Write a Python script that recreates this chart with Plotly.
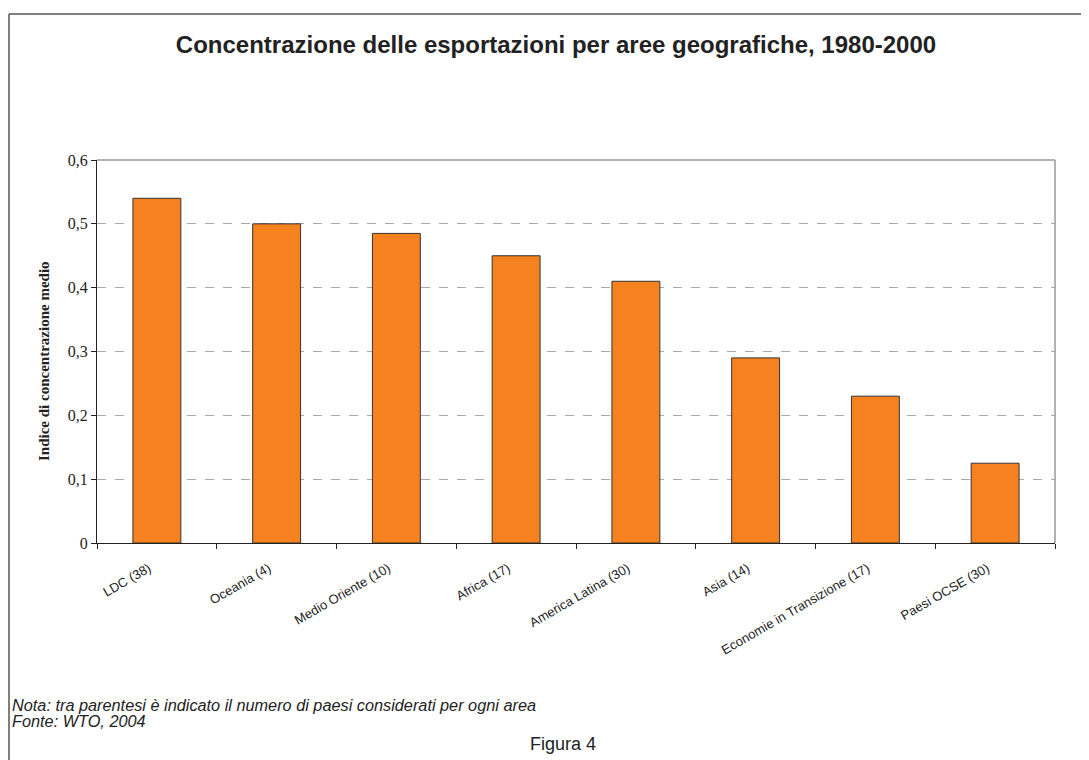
import plotly.graph_objects as go

categories = ["LDC (38)", "Oceania (4)", "Medio Oriente (10)", "Africa (17)",
              "America Latina (30)", "Asia (14)", "Economie in Transizione (17)",
              "Paesi OCSE (30)"]
values = [0.54, 0.50, 0.485, 0.45, 0.41, 0.29, 0.23, 0.125]
ytick_vals = [0, 0.1, 0.2, 0.3, 0.4, 0.5, 0.6]
ytick_text = ["0", "0,1", "0,2", "0,3", "0,4", "0,5", "0,6"]

# page body has an 8px margin: figure starts at (8, 8) in the window
OFF = 8
W, H = 1089 - OFF, 760 - OFF
# plot area in window pixels
SL, SR, ST, SB = 97, 1055, 160, 543
L, R, T, B = SL - OFF, SR - OFF, ST - OFF, SB - OFF


def px(sx):
    return (sx - OFF - L) / (R - L)


def py(sy):
    return (B - (sy - OFF)) / (B - T)


fig = go.Figure()
fig.add_trace(go.Bar(
    x=categories, y=values, width=0.4,
    marker=dict(color="#F5821F", line=dict(color="#333333", width=1)),
    hoverinfo="skip",
))

fig.update_layout(
    width=W, height=H,
    margin=dict(l=L, r=W - R, t=T, b=H - B),
    paper_bgcolor="white", plot_bgcolor="white",
    showlegend=False,
    font=dict(family="Liberation Sans, Arial", color="#222222"),
    title=dict(
        text="<b>Concentrazione delle esportazioni per aree geografiche, 1980-2000</b>",
        x=px(556), xref="paper", xanchor="center",
        y=1 - (45 - OFF) / H, yanchor="middle",
        font=dict(family="Liberation Sans, Arial", size=24, color="#222222"),
    ),
    xaxis=dict(
        type="category", tickangle=-30, tickson="boundaries",
        ticks="outside", ticklen=5, tickcolor="#222222",
        showline=True, linecolor="#222222", linewidth=1,
        showgrid=False,
        ticklabelshift=-8, ticklabelstandoff=12,
        tickfont=dict(family="Liberation Sans, Arial", size=13, color="#222222"),
        range=[-0.5, 7.5],
    ),
    yaxis=dict(
        range=[0, 0.6], tickvals=ytick_vals, ticktext=ytick_text,
        ticks="outside", ticklen=5, tickcolor="#222222",
        showline=True, linecolor="#222222", linewidth=1,
        showgrid=True, gridcolor="#AAAAAA", griddash="dash", gridwidth=1,
        zeroline=False,
        tickfont=dict(family="Liberation Serif, Times New Roman", size=16, color="#222222"),
    ),
)

# plot-area grey frame (top and right)
fig.add_shape(type="line", xref="paper", yref="paper", x0=0, x1=1, y0=1, y1=1,
              line=dict(color="#999999", width=1.5))
fig.add_shape(type="line", xref="paper", yref="paper", x0=1, x1=1, y0=0, y1=1,
              line=dict(color="#999999", width=1.5))

# outer figure border (left and top)
fig.add_shape(type="line", xref="paper", yref="paper", x0=px(9), x1=px(1100),
              y0=py(14), y1=py(14), line=dict(color="#555555", width=1.5))
fig.add_shape(type="line", xref="paper", yref="paper", x0=px(9), x1=px(9),
              y0=py(14), y1=py(780), line=dict(color="#555555", width=1.5))

fig.add_annotation(
    text="<b>Indice di concentrazione medio</b>", textangle=-90,
    xref="paper", yref="paper", x=px(44), y=py(361), xanchor="center", yanchor="middle",
    showarrow=False, font=dict(family="Liberation Serif, Times New Roman", size=15, color="#222222"))
fig.add_annotation(
    text="<i>Nota: tra parentesi è indicato il numero di paesi considerati per ogni area</i>",
    xref="paper", yref="paper", x=px(10), y=py(705), xanchor="left", yanchor="middle",
    showarrow=False, font=dict(family="Liberation Sans, Arial", size=16.3, color="#222222"))
fig.add_annotation(
    text="<i>Fonte: WTO, 2004</i>",
    xref="paper", yref="paper", x=px(10), y=py(721), xanchor="left", yanchor="middle",
    showarrow=False, font=dict(family="Liberation Sans, Arial", size=16.3, color="#222222"))
fig.add_annotation(
    text="Figura 4",
    xref="paper", yref="paper", x=px(563), y=py(744), xanchor="center", yanchor="middle",
    showarrow=False, font=dict(family="Liberation Sans, Arial", size=18, color="#222222"))

fig.write_html("out.html")
